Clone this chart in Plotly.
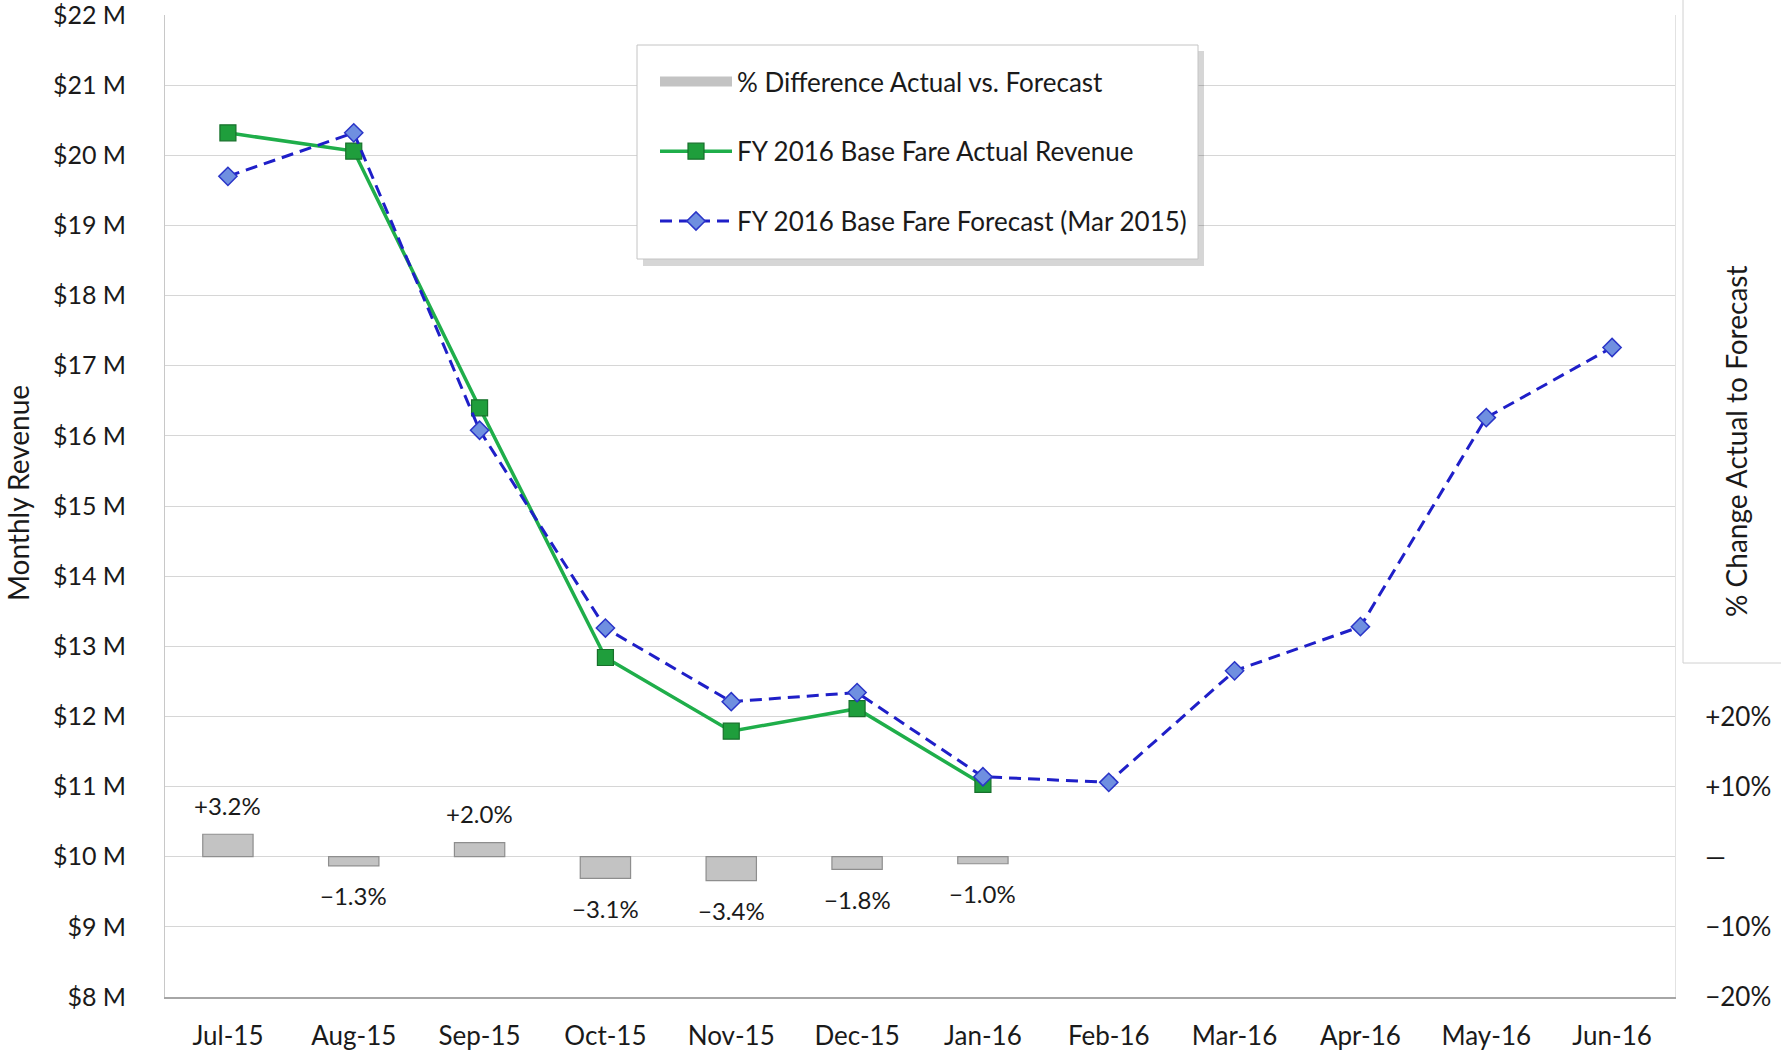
import plotly.graph_objects as go

months = ["Jul-15", "Aug-15", "Sep-15", "Oct-15", "Nov-15", "Dec-15",
          "Jan-16", "Feb-16", "Mar-16", "Apr-16", "May-16", "Jun-16"]
actual = [20.32, 20.06, 16.40, 12.84, 11.79, 12.11, 11.03]
forecast = [19.70, 20.32, 16.08, 13.26, 12.21, 12.34, 11.14, 11.06,
            12.65, 13.28, 16.26, 17.26]
pct_diff = [3.2, -1.3, 2.0, -3.1, -3.4, -1.8, -1.0]
pct_labels = ["+3.2%", "\u22121.3%", "+2.0%", "\u22123.1%", "\u22123.4%",
              "\u22121.8%", "\u22121.0%"]
left_ticks = list(range(8, 23))
left_ticktext = ["$%d M" % v for v in left_ticks]
right_ticks = [-20, -10, 0, 10, 20]
right_ticktext = ["\u221220%", "\u221210%", "\u2014", "+10%", "+20%"]

FONT = "Lato, 'Open Sans', sans-serif"
TXT = "#1a1a1a"
BAR_FILL = "#c3c3c3"

W, H = 1781, 1052
PL, PR, PT, PB = 165, 1675, 15, 997  # plot area in window pixels

fig = go.Figure()
fig.add_trace(go.Bar(
    x=months[:len(pct_diff)], y=pct_diff, yaxis="y2", width=0.4,
    name="% Difference Actual vs. Forecast", legendgroup="a",
    showlegend=False,
    marker=dict(color=BAR_FILL, line=dict(color="#8e8e8e", width=1.2)),
))
# legend entry for the bar series (wide gray swatch)
fig.add_trace(go.Scatter(
    x=[None], y=[None], mode="lines", legendgroup="a",
    name="% Difference Actual vs. Forecast",
    line=dict(color=BAR_FILL, width=17),
))
fig.add_trace(go.Scatter(
    x=months[:len(actual)], y=actual, mode="lines+markers",
    name="FY 2016 Base Fare Actual Revenue", legendgroup="b",
    line=dict(color="#1fae4a", width=3.5),
    marker=dict(symbol="square", size=16, color="#1f9e3c",
                line=dict(color="#17702b", width=1.2)),
))
fig.add_trace(go.Scatter(
    x=months, y=forecast, mode="lines+markers",
    name="FY 2016 Base Fare Forecast (Mar 2015)", legendgroup="c",
    line=dict(color="#1f1fc8", width=3, dash="12px,7px"),
    marker=dict(symbol="diamond", size=14, color="#6f8fe0",
                line=dict(color="#2a35c8", width=1.5)),
))

annotations = []
for m, v, t in zip(months, pct_diff, pct_labels):
    annotations.append(dict(
        x=m, y=v, xref="x", yref="y2", text=t, showarrow=False,
        yanchor="middle", yshift=29 if v > 0 else -30,
        font=dict(family=FONT, size=24, color=TXT)))


def px_x(p):
    return (p - PL) / float(PR - PL)


def px_y(p):
    return (PB - p) / float(PB - PT)


annotations.append(dict(
    x=px_x(18), y=px_y(493), xref="paper", yref="paper",
    xanchor="center", yanchor="middle", text="Monthly Revenue",
    textangle=-90, showarrow=False, font=dict(family=FONT, size=28, color=TXT)))
annotations.append(dict(
    x=px_x(1736), y=px_y(442), xref="paper", yref="paper",
    xanchor="center", yanchor="middle",
    text="% Change Actual to Forecast", textangle=-90, showarrow=False,
    font=dict(family=FONT, size=28, color=TXT)))

shapes = [
    dict(type="rect", xref="paper", yref="paper", layer="above",
         x0=px_x(643), x1=px_x(1204), y0=px_y(266), y1=px_y(51),
         fillcolor="rgba(0,0,0,0.16)", line=dict(width=0)),
    dict(type="rect", xref="paper", yref="paper", layer="above",
         x0=px_x(637), x1=px_x(1198), y0=px_y(259), y1=px_y(45),
         fillcolor="white", line=dict(color="#c4c4c4", width=1)),
    dict(type="rect", xref="paper", yref="paper", layer="above",
         x0=px_x(1683), x1=px_x(1800), y0=px_y(663), y1=px_y(-20),
         fillcolor="white", line=dict(color="#d0d0d0", width=1)),
]

fig.update_layout(
    width=W, height=H,
    margin=dict(l=PL, r=W - PR, t=PT, b=H - PB, autoexpand=False),
    paper_bgcolor="white", plot_bgcolor="white",
    font=dict(family=FONT, size=26, color=TXT),
    showlegend=True,
    legend=dict(x=px_x(655), y=px_y(58), xanchor="left", yanchor="top",
                bgcolor="rgba(0,0,0,0)", borderwidth=0,
                font=dict(family=FONT, size=26, color=TXT),
                tracegroupgap=33, itemwidth=72, traceorder="grouped"),
    xaxis=dict(type="category", range=[-0.5, len(months) - 0.5],
               showgrid=False, showline=True,
               linecolor="#a6a6a6", linewidth=1.5, ticks="",
               automargin=False, ticklabeloverflow="allow",
               ticklabelstandoff=15, tickfont=dict(size=26)),
    yaxis=dict(range=[8, 22], tickvals=left_ticks, ticktext=left_ticktext,
               showgrid=True, gridcolor="#d6d6d6", gridwidth=1,
               showline=True, linecolor="#c8c8c8", zeroline=False,
               automargin=False, ticklabeloverflow="allow",
               ticklabelstandoff=33, tickfont=dict(size=25)),
    yaxis2=dict(range=[-20, 120], overlaying="y", side="right",
                tickvals=right_ticks, ticktext=right_ticktext,
                showgrid=False, zeroline=False, showline=True,
                linecolor="#e2e2e2", ticklabelstandoff=24,
                automargin=False, ticklabeloverflow="allow",
                tickfont=dict(size=26)),
    annotations=annotations,
    shapes=shapes,
)

# remove the default 8px page margin so the figure fills the window exactly
fig.write_html(
    "out.html",
    config={"displayModeBar": False},
    post_script="document.body.style.margin='0';"
                "document.documentElement.style.overflow='hidden';",
)
